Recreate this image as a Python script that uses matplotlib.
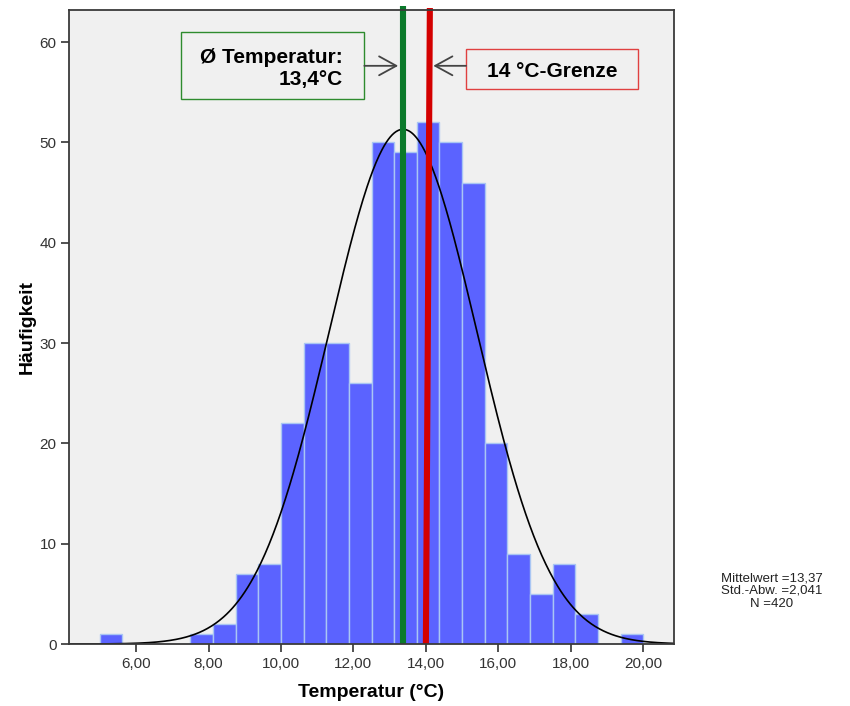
import numpy as np
import matplotlib
matplotlib.use("Agg")
import matplotlib.pyplot as plt
from matplotlib.patches import Rectangle

plt.rcParams['font.family'] = ['Liberation Sans', 'DejaVu Sans']

# Histogram of daily temperatures (bin edges and counts)
bin_start = 5.0
bin_width = 0.625
counts = [1, 0, 0, 0, 1, 2, 7, 8, 22, 30, 30, 26,
          50, 49, 52, 50, 46, 20, 9, 5, 8, 3, 0, 1]
bin_edges = bin_start + bin_width * np.arange(len(counts) + 1)

# Summary statistics
mean_temp = 13.37
std_temp = 2.041
n_obs = 420
limit_temp = 14.0

x_ticks = [6, 8, 10, 12, 14, 16, 18, 20]
y_ticks = [0, 10, 20, 30, 40, 50, 60]


def de_num(v, d=2):
    return f"{v:.{d}f}".replace(".", ",")


fig = plt.figure(figsize=(8.5, 7.06), dpi=100)
ax = fig.add_axes([0.0812, 0.0878, 0.7118, 0.898])
ax.set_facecolor("#f0f0f0")

ax.bar(bin_edges[:-1], counts, width=bin_width, align="edge",
       color="#5b63ff", edgecolor="#a9c6f4", linewidth=1.0, zorder=2)

# Normal curve scaled to the histogram
xmin, xmax = 4.15, 20.85
xs = np.linspace(xmin, xmax, 600)
pdf = np.exp(-0.5 * ((xs - mean_temp) / std_temp) ** 2) / (std_temp * np.sqrt(2 * np.pi))
ax.plot(xs, pdf * n_obs * bin_width, color="black", lw=1.2, zorder=3)

ax.set_xlim(xmin, xmax)
ax.set_ylim(0, 63.2)

# Mean line and 14 °C threshold line
ax.plot([mean_temp, mean_temp], [0, 63.6], color="#0b7a2b", lw=4.4,
        solid_capstyle="butt", clip_on=False, zorder=4)
lean = 0.11
ax.plot([limit_temp, limit_temp + lean], [0, 63.4], color="#d40000", lw=4.4,
        solid_capstyle="butt", clip_on=False, zorder=4)

ax.set_xticks(x_ticks)
ax.set_xticklabels([de_num(v) for v in x_ticks])
ax.set_yticks(y_ticks)
ax.set_yticklabels([str(v) for v in y_ticks])
ax.tick_params(axis="both", direction="out", length=6, width=1.2,
               color="#333333", labelsize=11, labelcolor="#333333", pad=3)
for s in ax.spines.values():
    s.set_color("#3a3a3a")
    s.set_linewidth(1.3)
    s.set_zorder(5)

ax.set_xlabel("Temperatur (°C)", fontsize=14, fontweight="bold", labelpad=10)
ax.set_ylabel("Häufigkeit", fontsize=14, fontweight="bold", labelpad=3)

# Annotation boxes
ax.add_patch(Rectangle((0.1846, 0.8596), 0.3035, 0.1052, transform=ax.transAxes,
                       facecolor="#f0f0f0", edgecolor="#2e8b2e", lw=1.0, zorder=6))
ax.text(0.4529, 0.9077, "Ø Temperatur:\n" + de_num(mean_temp, 1) + "°C",
        transform=ax.transAxes, ha="right", va="center", ma="right",
        fontsize=15, fontweight="bold", linespacing=1.25, zorder=7)

ax.add_patch(Rectangle((0.6562, 0.8759), 0.2848, 0.0621, transform=ax.transAxes,
                       facecolor="#f0f0f0", edgecolor="#e04040", lw=1.0, zorder=6))
ax.text(0.7983, 0.9027, f"{limit_temp:.0f} °C-Grenze", transform=ax.transAxes,
        ha="center", va="center", fontsize=15, fontweight="bold", zorder=7)

arrow_kw = dict(arrowstyle="->,head_length=0.62,head_width=0.34",
                color="#444444", lw=1.3, mutation_scale=20, shrinkA=0)
ax.annotate("", xy=(mean_temp, 0.912), xycoords=("data", "axes fraction"),
            xytext=(0.4881, 0.912), textcoords="axes fraction",
            arrowprops=dict(**arrow_kw, shrinkB=3.5), zorder=7)
ax.annotate("", xy=(limit_temp + 0.09, 0.912), xycoords=("data", "axes fraction"),
            xytext=(0.6562, 0.912), textcoords="axes fraction",
            arrowprops=dict(**arrow_kw, shrinkB=3.0), zorder=7)

# Statistics block
fig.text(0.908, 0.163,
         f"Mittelwert ={de_num(mean_temp)}\nStd.-Abw. ={de_num(std_temp, 3)}\nN ={n_obs}",
         ha="center", va="center", ma="center", fontsize=9.5, linespacing=1.1,
         color="#222222")

fig.savefig("out.png", dpi=100, facecolor="white")
